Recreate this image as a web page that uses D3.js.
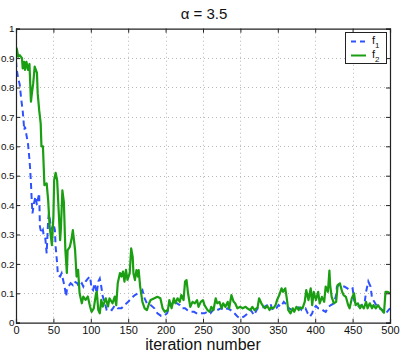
<!DOCTYPE html>
<html><head><meta charset="utf-8">
<script src="https://cdn.jsdelivr.net/npm/d3@7"></script>
<style>body{margin:0;background:#fff;}svg{display:block;font-family:"Liberation Sans",Arial,sans-serif;}</style>
</head><body><svg id="c" width="402" height="354"></svg>
<script>
const titleText = "α = 3.5";
const xLabel = "iteration number";
const xTicks = [0,50,100,150,200,250,300,350,400,450,500];
const yTicks = [0,0.1,0.2,0.3,0.4,0.5,0.6,0.7,0.8,0.9,1];
const seriesNames = ["f1","f2"];

const f1Iter = [0,1,3,5,7,9,10,11,12,14,16,18,19,20,21,22,24,26,28,29,31,32,34,36,37,39,41,43,44,46,48,50,52,53,55,56,59,61,63,65,67,68,70,73,76,78,82,84,88,90,93,96,99,101,103,105,108,110,112,114,116,119,121,124,128,132,136,141,145,150,154,159,163,167,169,172,175,180,185,189,194,198,202,205,209,212,215,219,222,226,229,234,238,243,247,252,256,260,265,269,274,278,283,287,292,296,300,305,309,314,318,323,327,332,336,340,343,348,351,354,358,362,365,369,373,378,382,387,390,393,396,398,401,404,407,411,414,418,421,425,428,429,432,436,439,443,446,450,452,455,459,462,466,468,471,474,476,479,483,486,490,492,496,500];
const f1Val = [0.89,0.86,0.83,0.81,0.76,0.72,0.69,0.655,0.667,0.638,0.61,0.555,0.52,0.474,0.417,0.372,0.406,0.429,0.40,0.417,0.44,0.326,0.304,0.315,0.298,0.292,0.236,0.349,0.372,0.338,0.32,0.338,0.315,0.258,0.202,0.162,0.157,0.168,0.145,0.123,0.089,0.111,0.123,0.134,0.128,0.14,0.134,0.123,0.134,0.123,0.14,0.15,0.157,0.117,0.111,0.134,0.10,0.14,0.15,0.123,0.089,0.066,0.045,0.049,0.043,0.058,0.049,0.049,0.06,0.071,0.083,0.094,0.10,0.105,0.111,0.083,0.066,0.06,0.049,0.032,0.023,0.023,0.032,0.054,0.066,0.077,0.066,0.06,0.049,0.049,0.043,0.037,0.037,0.03,0.032,0.032,0.037,0.032,0.049,0.043,0.049,0.043,0.049,0.043,0.032,0.021,0.015,0.021,0.03,0.043,0.026,0.049,0.049,0.054,0.06,0.066,0.043,0.049,0.06,0.054,0.071,0.06,0.049,0.043,0.049,0.052,0.043,0.049,0.032,0.021,0.032,0.049,0.057,0.049,0.049,0.041,0.037,0.054,0.06,0.066,0.094,0.123,0.128,0.123,0.123,0.117,0.111,0.117,0.077,0.06,0.054,0.06,0.066,0.105,0.14,0.123,0.083,0.071,0.054,0.049,0.043,0.032,0.037,0.049];

const f2Iter = [0,1,3,5,8,9,11,12,14,16,18,20,21,23,25,28,29,31,33,34,36,38,41,43,45,48,50,51,53,55,57,59,60,62,64,66,68,69,72,74,76,79,81,83,85,88,90,93,96,99,101,104,107,108,110,112,114,116,120,123,125,129,132,134,136,139,141,143,145,147,149,152,154,156,157,159,161,163,164,166,169,172,175,178,180,185,189,193,196,199,203,205,208,211,213,216,219,221,224,226,228,230,233,236,239,242,244,247,250,252,256,259,261,264,267,269,272,275,277,280,283,285,288,291,293,296,300,303,307,309,313,316,319,323,325,328,331,333,336,339,341,344,347,349,352,355,357,360,362,364,367,370,372,375,378,380,383,386,388,391,394,396,398,401,404,406,409,412,414,417,419,420,422,425,428,430,433,436,438,441,444,446,449,452,454,457,460,462,465,468,470,473,476,478,481,484,486,489,492,494,497,500];
const f2Val = [0.90,0.933,0.905,0.91,0.90,0.865,0.887,0.86,0.887,0.86,0.88,0.752,0.775,0.814,0.871,0.85,0.78,0.723,0.678,0.60,0.60,0.468,0.474,0.417,0.326,0.264,0.36,0.485,0.51,0.485,0.383,0.281,0.32,0.45,0.41,0.247,0.169,0.247,0.258,0.281,0.315,0.247,0.157,0.18,0.10,0.066,0.089,0.078,0.089,0.055,0.037,0.049,0.10,0.105,0.043,0.032,0.078,0.055,0.083,0.055,0.083,0.066,0.089,0.06,0.134,0.169,0.157,0.174,0.14,0.18,0.146,0.168,0.253,0.224,0.168,0.145,0.179,0.157,0.179,0.123,0.071,0.049,0.043,0.066,0.077,0.083,0.088,0.083,0.049,0.037,0.043,0.077,0.049,0.083,0.066,0.083,0.071,0.094,0.077,0.14,0.145,0.10,0.054,0.071,0.066,0.077,0.054,0.071,0.077,0.06,0.043,0.037,0.054,0.043,0.083,0.066,0.071,0.049,0.066,0.054,0.071,0.049,0.094,0.071,0.066,0.049,0.054,0.049,0.054,0.049,0.043,0.054,0.043,0.052,0.083,0.066,0.054,0.049,0.057,0.043,0.052,0.049,0.06,0.077,0.094,0.117,0.105,0.117,0.083,0.043,0.032,0.049,0.037,0.054,0.043,0.052,0.049,0.071,0.111,0.077,0.117,0.06,0.105,0.077,0.105,0.066,0.088,0.071,0.123,0.105,0.177,0.128,0.088,0.066,0.071,0.128,0.134,0.105,0.094,0.088,0.06,0.049,0.083,0.10,0.06,0.066,0.049,0.06,0.049,0.071,0.049,0.066,0.049,0.06,0.049,0.06,0.052,0.043,0.034,0.105,0.105,0.10];

const W = 402, H = 354;
const m = {l:16, r:12, t:28.7, b:31.3};
const svg = d3.select("#c");
const x = d3.scaleLinear().domain([0,500]).range([m.l, W-m.r]);
const y = d3.scaleLinear().domain([0,1]).range([H-m.b, m.t]);

// grid
const grid = svg.append("g").attr("stroke","#b8b8b8").attr("stroke-width",1).attr("stroke-dasharray","1,3");
grid.selectAll(".gx").data(xTicks.slice(1,-1)).join("line")
  .attr("x1",d=>Math.round(x(d))+0.5).attr("x2",d=>Math.round(x(d))+0.5).attr("y1",y(1)).attr("y2",y(0));
grid.selectAll(".gy").data(yTicks.slice(1,-1)).join("line")
  .attr("y1",d=>Math.round(y(d))+0.5).attr("y2",d=>Math.round(y(d))+0.5).attr("x1",x(0)).attr("x2",x(500));

// lines
svg.append("clipPath").attr("id","pc").append("rect")
  .attr("x",x(0)).attr("y",y(1)).attr("width",x(500)-x(0)).attr("height",y(0)-y(1));
const line = d3.line().x(d=>x(d[0])).y(d=>y(d[1]));
const d1 = f1Iter.map((v,i)=>[v,f1Val[i]]);
const d2 = f2Iter.map((v,i)=>[v,f2Val[i]]);
const plot = svg.append("g").attr("clip-path","url(#pc)");
plot.append("path").datum(d1).attr("d",line).attr("fill","none")
  .attr("stroke","#2f52ff").attr("stroke-width",2).attr("stroke-dasharray","6,4");
plot.append("path").datum(d2).attr("d",line).attr("fill","none")
  .attr("stroke","#1a9e12").attr("stroke-width",2.2).attr("stroke-linejoin","round");

// axes
const axB = svg.append("g").attr("transform",`translate(0,${y(0)})`)
  .call(d3.axisBottom(x).tickValues(xTicks).tickSize(-4).tickPadding(4).tickFormat(d3.format("d")));
const axL = svg.append("g").attr("transform",`translate(${x(0)},0)`)
  .call(d3.axisLeft(y).tickValues(yTicks).tickSize(-4).tickPadding(1.5).tickFormat(d=>d===0||d===1?String(d):d3.format(".1f")(d)));
const axT = svg.append("g").attr("transform",`translate(0,${y(1)})`)
  .call(d3.axisTop(x).tickValues(xTicks).tickSize(-4).tickFormat(""));
const axR = svg.append("g").attr("transform",`translate(${x(500)},0)`)
  .call(d3.axisRight(y).tickValues(yTicks).tickSize(-4).tickFormat(""));
[axB,axL,axT,axR].forEach(a=>{
  a.selectAll(".domain").attr("stroke","#222").attr("stroke-width",1.2);
  a.selectAll(".tick line").attr("stroke","#222");
  a.selectAll("text").attr("fill","#111").style("font-size","11px").style("font-family","Liberation Sans, Arial, sans-serif");
});
axL.selectAll("text").style("font-size","9.8px");

// title and label
svg.append("text").attr("x",(x(0)+x(500))/2+1).attr("y",19).attr("text-anchor","middle")
  .style("font-size","15px").attr("fill","#111").text(titleText);
svg.append("text").attr("x",(x(0)+x(500))/2).attr("y",350).attr("text-anchor","middle")
  .style("font-size","16px").attr("fill","#111").text(xLabel);

// legend
const lg = svg.append("g");
lg.append("rect").attr("x",345.5).attr("y",32.5).attr("width",41).attr("height",31)
  .attr("fill","#fff").attr("stroke","#222").attr("stroke-width",1);
const colors = ["#2f52ff","#1a9e12"];
seriesNames.forEach((n,i)=>{
  const yy = 41.5 + i*14;
  lg.append("line").attr("x1",351).attr("x2",366).attr("y1",yy).attr("y2",yy)
    .attr("stroke",colors[i]).attr("stroke-width",2).attr("stroke-dasharray",i===0?"5,4":null);
  const t = lg.append("text").attr("x",372).attr("y",yy+2).style("font-size","11px").attr("fill","#111");
  t.append("tspan").text(n[0]);
  t.append("tspan").attr("dy",4).style("font-size","8px").text(n.slice(1));
});
</script></body></html>
